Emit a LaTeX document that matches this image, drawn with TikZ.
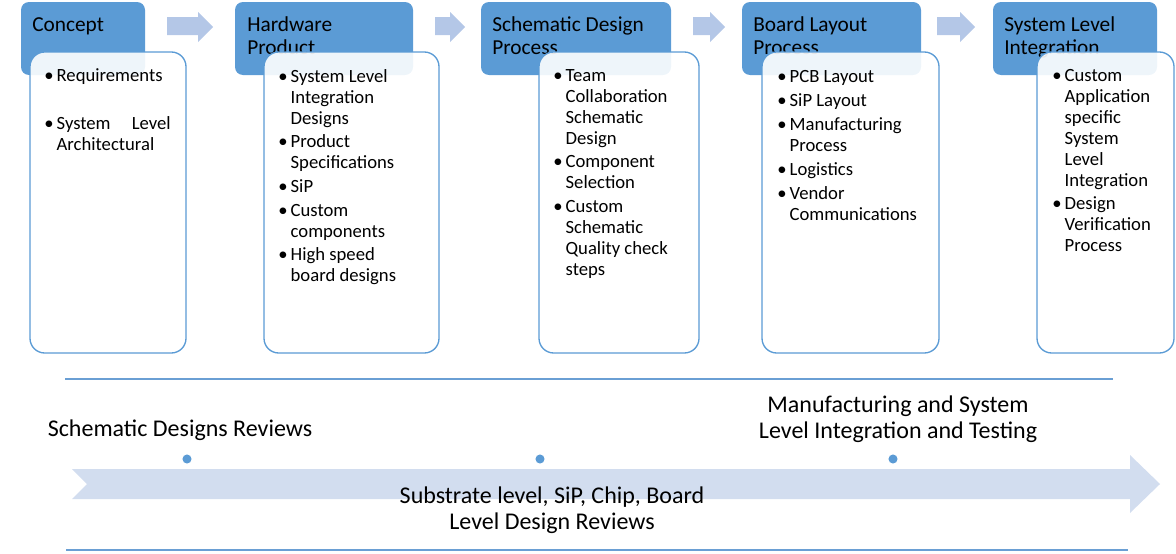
\documentclass[tikz,border=0pt]{standalone}
\usepackage{fontspec}
\setmainfont{Carlito}
\definecolor{hdrblue}{HTML}{5B9BD5}
\definecolor{chevblue}{HTML}{B4C7E7}
\definecolor{bigarrow}{HTML}{D2DDEF}
\definecolor{lineblue}{HTML}{6A9FD4}
\newcommand{\hdrfont}{\fontsize{16pt}{17.25pt}\selectfont}
\newcommand{\bodyfont}{\fontsize{14pt}{15.75pt}\selectfont}
\newcommand{\botfont}{\fontsize{18pt}{19.5pt}\selectfont}
\newcommand{\bul}{\makebox[9.3pt][l]{\textbullet}}
\newcommand{\ind}{\hspace*{9.3pt}}
\newcommand{\linesl}[1]{\begin{tabular}[t]{@{}l@{}}#1\end{tabular}}
\newcommand{\linesc}[1]{\begin{tabular}[t]{@{}c@{}}#1\end{tabular}}
\begin{document}
\begin{tikzpicture}[x=0.75pt,y=-0.75pt,
  hdrbox/.style={fill=hdrblue,rounded corners=6pt},
  whitebox/.style={draw=hdrblue,line width=1pt,fill=white,fill opacity=0.9,rounded corners=11pt},
  chev/.style={fill=chevblue},
  hdrtext/.style={anchor=base west,inner sep=0pt,font=\hdrfont,text=black},
  bodytext/.style={anchor=base west,inner sep=0pt,font=\bodyfont,text=black},
  bottext/.style={anchor=base,inner sep=0pt,font=\botfont,text=black},
  dot/.style={fill=hdrblue},
  sepline/.style={draw=lineblue,line width=0.9pt}]
\useasboundingbox (0,0) rectangle (1176,553);

% header boxes
\path[hdrbox] (21,2) rectangle (145,75);
\path[hdrbox] (235,2) rectangle (413,75);
\path[hdrbox] (481,2) rectangle (671,75);
\path[hdrbox] (742,2) rectangle (921,75);
\path[hdrbox] (993,2) rectangle (1157,75);

% header texts
\node[hdrtext] (h1) at (32,31.5) {\linesl{Concept}};
\node[hdrtext] (h2) at (247,31.5) {\linesl{Hardware\\Product}};
\node[hdrtext] (h3) at (492,31.5) {\linesl{Schematic Design\\Process}};
\node[hdrtext] (h4) at (753,31.5) {\linesl{Board Layout\\Process}};
\node[hdrtext] (h5) at (1004,31.5) {\linesl{System Level\\Integration}};

% chevron arrows
\path[chev] (167,17) -- (198,17) -- (198,12) -- (213,27) -- (198,42) -- (198,35) -- (167,35) -- cycle;
\path[chev] (435,17) -- (450,17) -- (450,12) -- (465,27) -- (450,42) -- (450,35) -- (435,35) -- cycle;
\path[chev] (693,17) -- (710,17) -- (710,12) -- (725,27) -- (710,42) -- (710,35) -- (693,35) -- cycle;
\path[chev] (937,17) -- (960,17) -- (960,12) -- (975,27) -- (960,42) -- (960,35) -- (937,35) -- cycle;

% white boxes
\path[whitebox] (30,52) rectangle (186,353);
\path[whitebox] (264,52) rectangle (439,353);
\path[whitebox] (539,52) rectangle (699,353);
\path[whitebox] (762,52) rectangle (939,353);
\path[whitebox] (1037,52) rectangle (1174,353);

% body texts
\node[bodytext] (b1) at (44,81) {\linesl{\bul Requirements\\[20.25pt]
  \bul\hbox to 85.5pt{System\hfill Level}\\ \ind Architectural}};
\node[bodytext] (b2) at (278,82) {\linesl{\bul System Level\\ \ind Integration\\ \ind Designs\\[2pt]
  \bul Product\\ \ind Specifications\\[2pt]
  \bul SiP\\[2pt]
  \bul Custom\\ \ind components\\[2pt]
  \bul High speed\\ \ind board designs}};
\node[bodytext] (b3) at (553,81) {\linesl{\bul Team\\ \ind Collaboration\\ \ind Schematic\\ \ind Design\\[2pt]
  \bul Component\\ \ind Selection\\[2pt]
  \bul Custom\\ \ind Schematic\\ \ind Quality check\\ \ind steps}};
\node[bodytext] (b4) at (777,82) {\linesl{\bul PCB Layout\\[2.25pt]
  \bul SiP Layout\\[2.25pt]
  \bul Manufacturing\\ \ind Process\\[2.25pt]
  \bul Logistics\\[2.25pt]
  \bul Vendor\\ \ind Communications}};
\node[bodytext] (b5) at (1052,81) {\linesl{\bul Custom\\ \ind Application\\ \ind specific\\ \ind System\\ \ind Level\\ \ind Integration\\[1.5pt]
  \bul Design\\ \ind Verification\\ \ind Process}};

% separator lines
\coordinate (l1a) at (65,379); \coordinate (l1b) at (1113,379);
\coordinate (l2a) at (66,550); \coordinate (l2b) at (1128,550);
\draw[sepline] (l1a) -- (l1b);
\draw[sepline] (l2a) -- (l2b);

% big arrow
\path[fill=bigarrow] (72,469) -- (1130,469) -- (1130,455) -- (1160,484) -- (1130,513) -- (1130,499) -- (72,499) -- (87,484) -- cycle;

% dots
\path[dot] (187,459) circle[radius=3.4pt];
\path[dot] (540,459) circle[radius=3.4pt];
\path[dot] (893,459) circle[radius=3.4pt];

% bottom texts
\node[bottext] (t1) at (180,436) {\linesc{Schematic Designs Reviews}};
\node[bottext] (t2) at (898,412) {\linesc{Manufacturing and System\\Level Integration and Testing}};
\node[bottext] (t3) at (552,503) {\linesc{Substrate level, SiP, Chip, Board\\Level Design Reviews}};
\end{tikzpicture}
\end{document}
